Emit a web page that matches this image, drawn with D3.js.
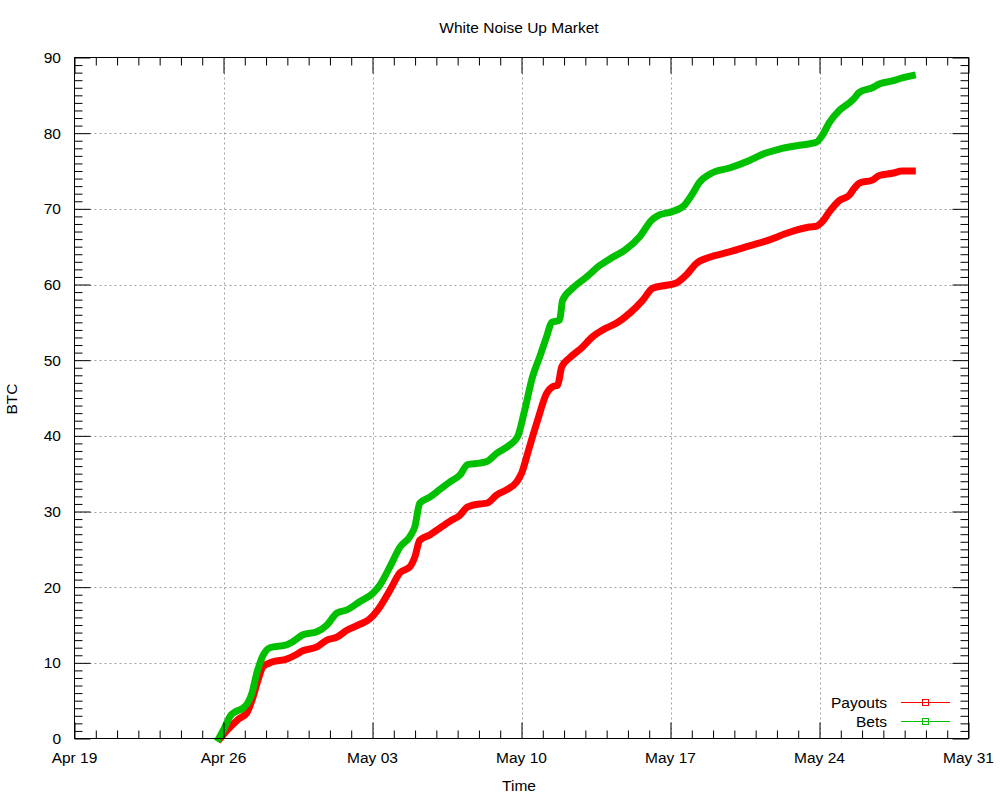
<!DOCTYPE html>
<html>
<head>
<meta charset="utf-8">
<script src="https://cdn.jsdelivr.net/npm/d3@7"></script>
<style>
  html, body { margin: 0; padding: 0; background: #fff; }
  svg text { font-family: "Liberation Sans", Arial, sans-serif; font-size: 15.5px; fill: #000; }
</style>
</head>
<body>
<svg id="chart" width="1000" height="800"></svg>
<script>
// ---- Data (days after Apr 19 and BTC values) ----
const title = "White Noise Up Market";
const xLabel = "Time";
const yLabel = "BTC";
const xTickLabels = ["Apr 19", "Apr 26", "May 03", "May 10", "May 17", "May 24", "May 31"];
const yTickValues = [0, 10, 20, 30, 40, 50, 60, 70, 80, 90];
const seriesNames = ["Payouts", "Bets"];
const seriesColors = ["#ff0000", "#00c000"];

const payoutDays = [6.84, 7.21, 7.68, 8.10, 8.39, 8.62, 8.86, 9.28, 9.98, 10.36, 10.73, 11.39, 11.86, 12.33, 12.80, 13.41, 13.87, 14.25, 14.82, 15.29, 15.76, 15.99, 16.22, 16.69, 17.16, 17.63, 18.10, 18.47, 19.04, 19.37, 19.84, 20.31, 20.77, 21.01, 21.29, 21.52, 21.76, 22.18, 22.46, 22.70, 22.89, 23.26, 23.82, 24.34, 24.81, 25.47, 26.08, 26.69, 27.16, 27.81, 28.28, 28.75, 29.22, 29.83, 30.77, 31.71, 32.65, 33.59, 34.52, 34.85, 35.13, 35.46, 35.93, 36.40, 36.63, 36.87, 37.48, 37.81, 38.42, 38.89, 39.36];
const payoutValues = [0.0, 1.2, 2.5, 3.4, 5.5, 7.7, 9.5, 10.1, 10.5, 11.0, 11.6, 12.1, 13.0, 13.4, 14.3, 15.1, 15.8, 17.0, 19.6, 21.9, 22.7, 24.0, 26.2, 26.9, 27.8, 28.7, 29.5, 30.6, 31.0, 31.1, 32.2, 32.9, 33.9, 35.1, 37.7, 39.9, 42.1, 45.6, 46.5, 46.7, 49.1, 50.3, 51.6, 53.1, 54.0, 54.9, 56.2, 57.9, 59.5, 59.9, 60.2, 61.3, 62.8, 63.6, 64.3, 65.1, 65.9, 66.9, 67.6, 67.7, 68.3, 69.6, 71.1, 71.8, 72.7, 73.4, 73.8, 74.4, 74.7, 75.0, 75.0];

const betDays = [6.78, 7.05, 7.30, 7.60, 7.92, 8.34, 8.57, 8.81, 9.18, 9.98, 10.26, 10.73, 11.39, 11.86, 12.33, 12.80, 13.41, 14.02, 14.35, 14.82, 15.29, 15.76, 15.99, 16.22, 16.69, 17.16, 17.63, 18.10, 18.47, 19.04, 19.37, 19.84, 20.45, 20.82, 21.15, 21.52, 21.85, 22.18, 22.42, 22.79, 22.93, 23.40, 24.06, 24.67, 25.28, 25.84, 26.55, 27.11, 27.48, 28.05, 28.66, 28.99, 29.36, 29.92, 30.77, 31.71, 32.41, 33.12, 34.05, 34.85, 35.13, 35.46, 35.93, 36.40, 36.63, 36.87, 37.48, 37.81, 38.42, 38.89, 39.36];
const betValues = [0.0, 1.4, 2.9, 3.6, 4.0, 6.0, 8.7, 10.7, 12.0, 12.4, 12.8, 13.7, 14.1, 15.0, 16.6, 17.0, 18.1, 19.2, 20.3, 22.7, 25.3, 26.7, 28.0, 31.1, 31.9, 32.9, 33.9, 34.8, 36.2, 36.4, 36.6, 37.7, 38.8, 39.9, 43.4, 47.8, 50.4, 53.1, 55.0, 55.3, 57.9, 59.5, 61.0, 62.5, 63.6, 64.5, 66.3, 68.5, 69.2, 69.6, 70.5, 71.8, 73.5, 74.7, 75.4, 76.4, 77.3, 77.9, 78.4, 78.8, 79.7, 81.4, 83.0, 84.0, 84.6, 85.4, 86.0, 86.5, 86.9, 87.3, 87.6];

// ---- Setup ----
const DAY = 864e5;
const base = new Date(2014, 3, 19);
const toDate = d => new Date(base.getTime() + d * DAY);
const end = toDate(42);

const L = 74.5, R = 968.5, T = 57.5, B = 738.5;
const svg = d3.select("#chart");

const x = d3.scaleTime().domain([base, end]).range([L, R]);
const y = d3.scaleLinear().domain([0, 90]).range([B, T]);

const majorX = xTickLabels.map((_, i) => toDate(i * 7));
const minorX = d3.range(0, 43).filter(i => i % 7 !== 0).map(i => toDate(i));
const minorY = d3.range(0, 91).filter(v => v % 10 !== 0);

// Grid
const grid = svg.append("g").attr("stroke", "#a0a0a0").attr("stroke-width", 1).attr("stroke-dasharray", "2,3");
grid.selectAll("line.gx").data(majorX.slice(1, -1)).join("line")
  .attr("x1", d => Math.round(x(d)) + 0.5).attr("x2", d => Math.round(x(d)) + 0.5)
  .attr("y1", T).attr("y2", B);
grid.selectAll("line.gy").data(yTickValues.slice(1, -1)).join("line")
  .attr("y1", d => Math.round(y(d)) + 0.5).attr("y2", d => Math.round(y(d)) + 0.5)
  .attr("x1", L).attr("x2", R);

// Series
const series = [
  { name: seriesNames[0], color: seriesColors[0], pts: payoutDays.map((d, i) => [toDate(d), payoutValues[i]]) },
  { name: seriesNames[1], color: seriesColors[1], pts: betDays.map((d, i) => [toDate(d), betValues[i]]) }
];
const line = d3.line().x(p => x(p[0])).y(p => y(p[1])).curve(d3.curveMonotoneX);
svg.append("g").selectAll("path").data(series).join("path")
  .attr("d", s => line(s.pts))
  .attr("fill", "none")
  .attr("stroke", s => s.color)
  .attr("stroke-width", 7)
  .attr("stroke-linejoin", "round")
  .attr("stroke-linecap", "square");

// Axes ticks (mirrored on all sides, pointing inward)
function styleAxis(g) {
  g.select(".domain").remove();
  g.selectAll(".tick line").attr("stroke", "#000").attr("stroke-width", 1);
  g.selectAll(".tick text").remove();
}
svg.append("g").attr("transform", `translate(0,${B})`)
  .call(d3.axisBottom(x).tickValues(majorX).tickSize(-16).tickSizeOuter(0)).call(styleAxis);
svg.append("g").attr("transform", `translate(0,${B})`)
  .call(d3.axisBottom(x).tickValues(minorX).tickSize(-8).tickSizeOuter(0)).call(styleAxis);
svg.append("g").attr("transform", `translate(0,${T})`)
  .call(d3.axisTop(x).tickValues(majorX).tickSize(-16).tickSizeOuter(0)).call(styleAxis);
svg.append("g").attr("transform", `translate(0,${T})`)
  .call(d3.axisTop(x).tickValues(minorX).tickSize(-8).tickSizeOuter(0)).call(styleAxis);
svg.append("g").attr("transform", `translate(${L},0)`)
  .call(d3.axisLeft(y).tickValues(yTickValues).tickSize(-16).tickSizeOuter(0)).call(styleAxis);
svg.append("g").attr("transform", `translate(${L},0)`)
  .call(d3.axisLeft(y).tickValues(minorY).tickSize(-8).tickSizeOuter(0)).call(styleAxis);
svg.append("g").attr("transform", `translate(${R},0)`)
  .call(d3.axisRight(y).tickValues(yTickValues).tickSize(-16).tickSizeOuter(0)).call(styleAxis);
svg.append("g").attr("transform", `translate(${R},0)`)
  .call(d3.axisRight(y).tickValues(minorY).tickSize(-8).tickSizeOuter(0)).call(styleAxis);

// Frame
svg.append("rect").attr("x", L).attr("y", T).attr("width", R - L).attr("height", B - T)
  .attr("fill", "none").attr("stroke", "#000").attr("stroke-width", 1);

// Tick labels
svg.append("g").selectAll("text").data(majorX).join("text")
  .attr("x", d => x(d)).attr("y", 763).attr("text-anchor", "middle")
  .text((d, i) => xTickLabels[i]);
svg.append("g").selectAll("text").data(yTickValues).join("text")
  .attr("x", 61).attr("y", d => y(d)).attr("dy", "0.36em").attr("text-anchor", "end")
  .text(d => d);

// Titles
svg.append("text").attr("x", 519).attr("y", 33).attr("text-anchor", "middle").text(title);
svg.append("text").attr("x", 519).attr("y", 791).attr("text-anchor", "middle").text(xLabel);
svg.append("text").attr("transform", "translate(17,399) rotate(-90)").attr("text-anchor", "middle").text(yLabel);

// Legend
const leg = svg.append("g").selectAll("g").data(series).join("g")
  .attr("transform", (s, i) => `translate(0,${702 + i * 19})`);
leg.append("text").attr("x", 887).attr("y", 0).attr("dy", "0.36em").attr("text-anchor", "end").text(s => s.name);
leg.append("line").attr("x1", 901).attr("x2", 950).attr("y1", 0.5).attr("y2", 0.5)
  .attr("stroke", s => s.color).attr("stroke-width", 1);
leg.append("rect").attr("x", 922.5).attr("y", -2.5).attr("width", 6).attr("height", 6)
  .attr("fill", "none").attr("stroke", s => s.color).attr("stroke-width", 1);
</script>
</body>
</html>
